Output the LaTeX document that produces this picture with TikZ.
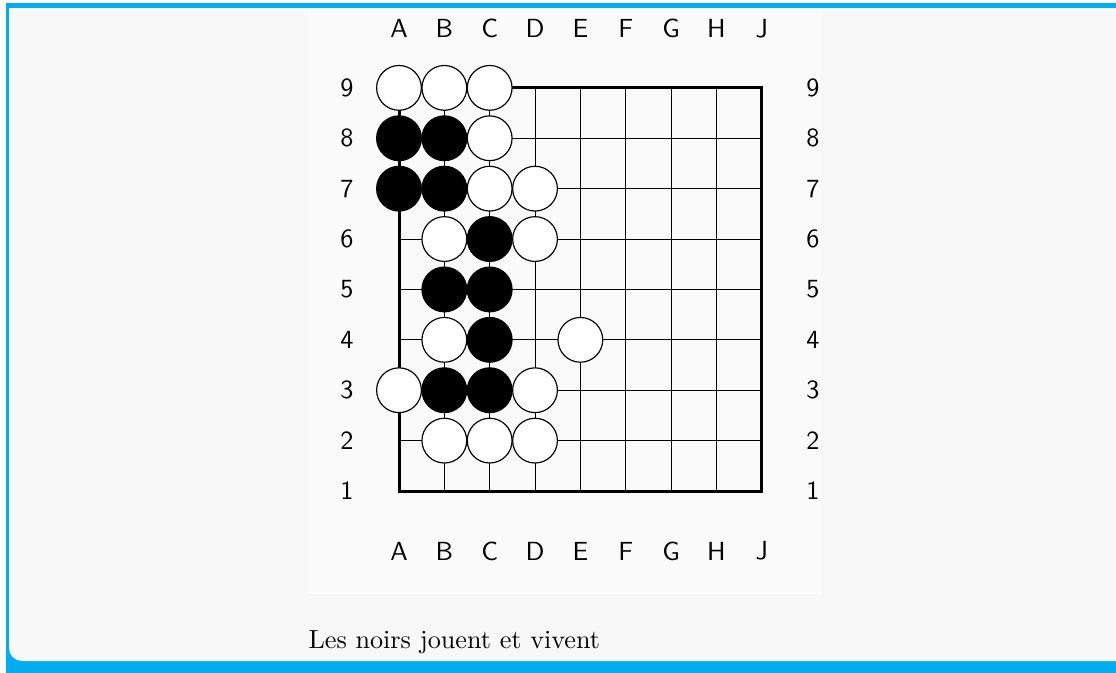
\documentclass[tikz,border=0pt]{standalone}
\usepackage{tikz}
\usetikzlibrary{calc}
\definecolor{framecyan}{HTML}{00AEEF}
\definecolor{boxbg}{HTML}{F8F8F8}
\definecolor{figbg}{HTML}{FAFAFA}

\tikzset{
  wstone/.style={circle, draw=black, fill=white, line width=0.45pt, minimum size=17.1pt, inner sep=0pt},
  bstone/.style={circle, draw=black, fill=black, line width=0.45pt, minimum size=17.1pt, inner sep=0pt},
  gridline/.style={black, line width=0.4pt},
  boardedge/.style={black, line width=1.15pt},
  coordlabel/.style={font=\sffamily},
}

\begin{document}
\begin{tikzpicture}[x=0.382pt, y=-0.382pt]
  \useasboundingbox (0,0) rectangle (1116,672);
  \clip (0,0) rectangle (1116,672);
  % cadre
  \fill[framecyan, rounded corners=8] (6,3) rectangle (1200,720);
  \fill[framecyan] (6,3) rectangle (40,40);
  \fill[boxbg, rounded corners=5] (9,8) rectangle (1200,661);
  \fill[boxbg] (9,8) rectangle (40,40);
  \fill[figbg] (308,8) rectangle (821,593);
  \draw[white, line width=0.4pt] (308,593) -- (821,593);
  % plateau
  \begin{scope}[shift={(399,491)}, x=17.32pt, y=19.25pt]
    \foreach \c [count=\i from 0] in {A,B,C,D,E,F,G,H,J} {
      \foreach \r in {1,...,9} \coordinate (\c\r) at (\i,\r-1);
    }
    \foreach \c in {B,C,D,E,F,G,H} \draw[gridline] (\c1) -- (\c9);
    \foreach \r in {2,...,8} \draw[gridline] (A\r) -- (J\r);
    \draw[boardedge] (A1) rectangle (J9);
    % coordonnees
    \foreach \c in {A,B,C,D,E,F,G,H,J} {
      \node[coordlabel] (top-\c) at ($(\c9)+(0,1.18)$) {\c};
      \node[coordlabel] (bot-\c) at ($(\c1)+(0,-1.19)$) {\c};
    }
    \foreach \r in {1,...,9} {
      \node[coordlabel] (left-\r) at ($(A\r)+(-1.15,0)$) {\r};
      \node[coordlabel] (right-\r) at ($(J\r)+(1.13,0)$) {\r};
    }
    % pierres
    \foreach \s in {A9,B9,C9,C8,C7,D7,B6,D6,B4,E4,A3,D3,B2,C2,D2}
      \node[wstone] (w-\s) at (\s) {};
    \foreach \s in {A8,B8,A7,B7,C6,B5,C5,C4,B3,C3}
      \node[bstone] (b-\s) at (\s) {};
  \end{scope}
  \node[anchor=base west, inner sep=0pt] (legende) at (308,648) {Les noirs jouent et vivent};
\end{tikzpicture}
\end{document}
